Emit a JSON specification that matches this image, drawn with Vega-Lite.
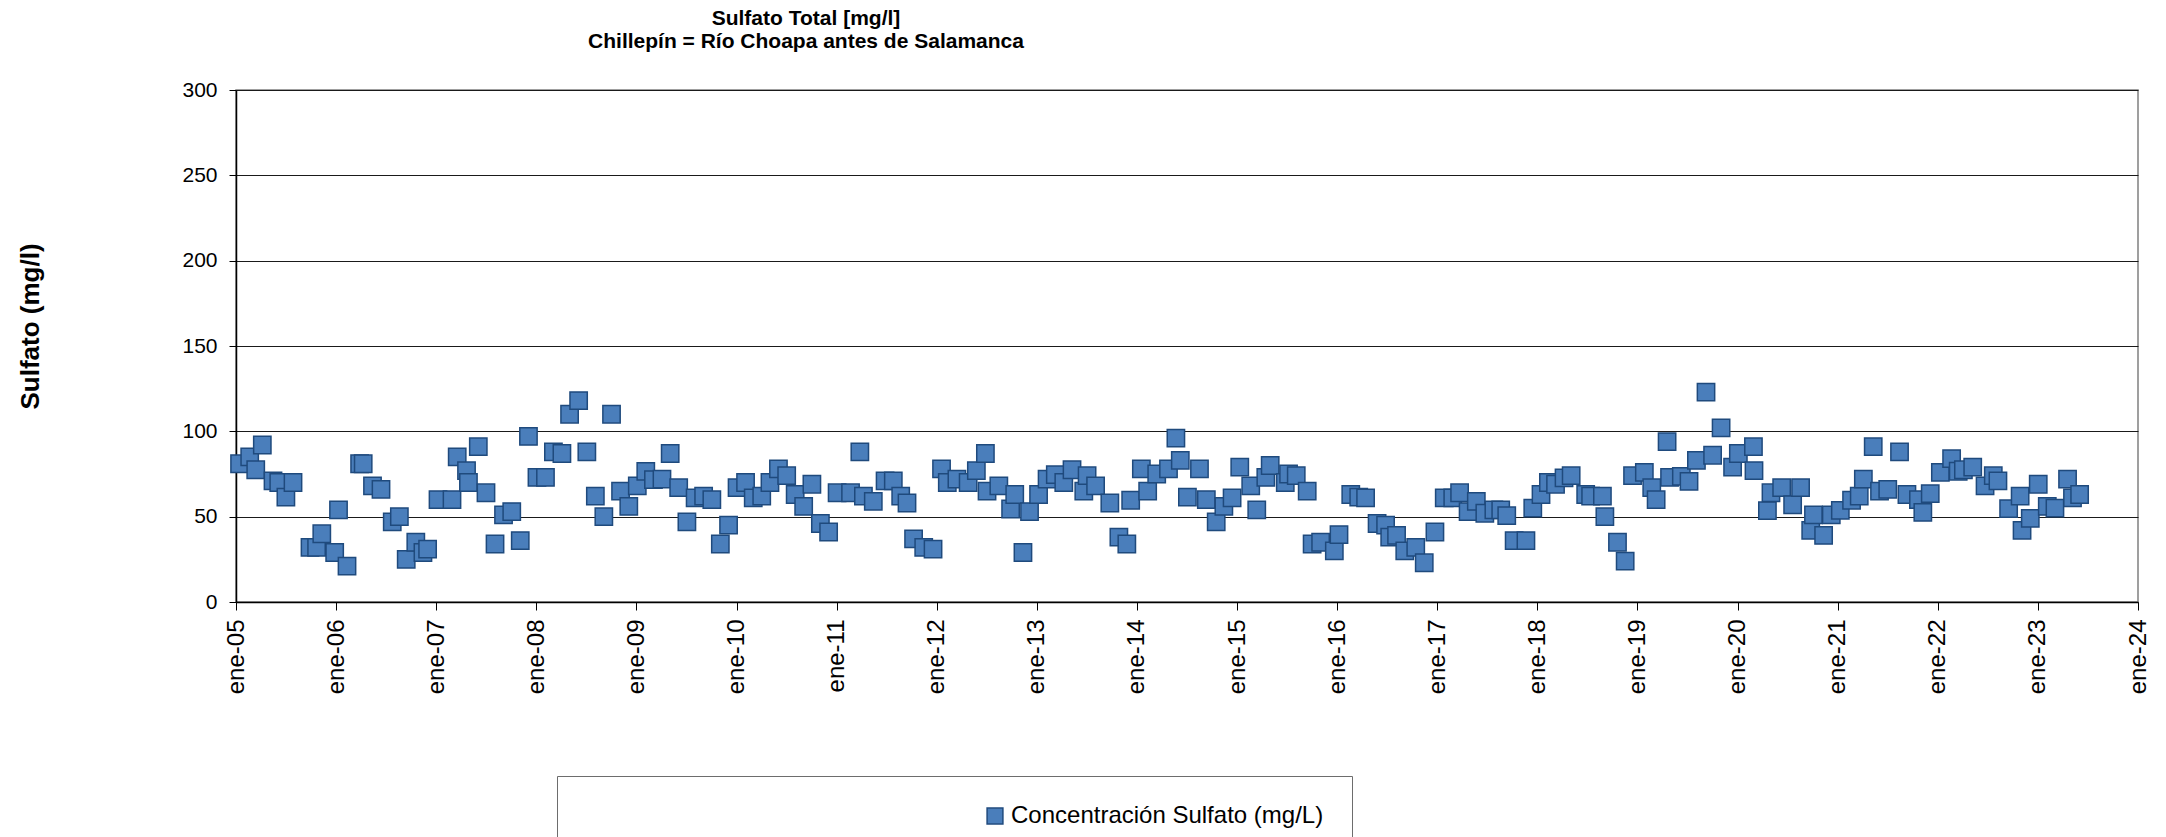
{
  "$schema": "https://vega.github.io/schema/vega-lite/v6.json",
  "autosize": {"type": "none"},
  "width": 1902,
  "height": 512,
  "padding": {"left": 236, "top": 90, "right": 28, "bottom": 235},
  "background": "white",
  "title": {
    "text": ["Sulfato Total [mg/l]", "Chillepín = Río Choapa antes de Salamanca"],
    "font": "Liberation Sans",
    "fontSize": 21,
    "fontWeight": "bold",
    "color": "#000000",
    "lineHeight": 23,
    "anchor": "middle",
    "frame": "group",
    "dx": -381,
    "offset": 27
  },
  "data": {
    "values": [
      {"d": "2005-01-14", "v": 81}, {"d": "2005-02-20", "v": 85}, {"d": "2005-03-14", "v": 77.5}, {"d": "2005-04-07", "v": 92},
      {"d": "2005-05-16", "v": 71}, {"d": "2005-06-06", "v": 70}, {"d": "2005-07-02", "v": 61.5}, {"d": "2005-07-28", "v": 70},
      {"d": "2005-09-28", "v": 32}, {"d": "2005-10-22", "v": 32}, {"d": "2005-11-10", "v": 40}, {"d": "2005-12-27", "v": 29},
      {"d": "2006-01-10", "v": 54}, {"d": "2006-02-10", "v": 21}, {"d": "2006-03-28", "v": 81}, {"d": "2006-04-10", "v": 81},
      {"d": "2006-05-14", "v": 68}, {"d": "2006-06-14", "v": 66}, {"d": "2006-07-25", "v": 47}, {"d": "2006-08-20", "v": 50},
      {"d": "2006-09-14", "v": 25}, {"d": "2006-10-19", "v": 35}, {"d": "2006-11-14", "v": 29}, {"d": "2006-12-01", "v": 31},
      {"d": "2007-01-08", "v": 60}, {"d": "2007-02-28", "v": 60}, {"d": "2007-03-19", "v": 85}, {"d": "2007-04-22", "v": 77},
      {"d": "2007-04-29", "v": 70}, {"d": "2007-06-04", "v": 91}, {"d": "2007-07-02", "v": 64}, {"d": "2007-08-04", "v": 34},
      {"d": "2007-09-04", "v": 51}, {"d": "2007-10-04", "v": 53}, {"d": "2007-11-04", "v": 36}, {"d": "2007-12-04", "v": 97},
      {"d": "2008-01-04", "v": 73}, {"d": "2008-02-04", "v": 73}, {"d": "2008-03-04", "v": 88}, {"d": "2008-04-04", "v": 87},
      {"d": "2008-05-02", "v": 110}, {"d": "2008-06-04", "v": 118}, {"d": "2008-07-04", "v": 88}, {"d": "2008-08-04", "v": 62},
      {"d": "2008-09-04", "v": 50}, {"d": "2008-10-02", "v": 110}, {"d": "2008-11-04", "v": 65}, {"d": "2008-12-04", "v": 56},
      {"d": "2009-01-04", "v": 68}, {"d": "2009-02-04", "v": 76.5}, {"d": "2009-03-04", "v": 71.7}, {"d": "2009-04-04", "v": 72},
      {"d": "2009-05-04", "v": 87}, {"d": "2009-06-04", "v": 67}, {"d": "2009-07-04", "v": 47}, {"d": "2009-08-03", "v": 61},
      {"d": "2009-09-03", "v": 62}, {"d": "2009-10-03", "v": 60}, {"d": "2009-11-03", "v": 34}, {"d": "2009-12-03", "v": 45},
      {"d": "2010-01-03", "v": 67}, {"d": "2010-02-03", "v": 70}, {"d": "2010-03-03", "v": 61}, {"d": "2010-04-03", "v": 62},
      {"d": "2010-05-03", "v": 70}, {"d": "2010-06-03", "v": 78}, {"d": "2010-07-03", "v": 74}, {"d": "2010-08-03", "v": 63},
      {"d": "2010-09-03", "v": 56}, {"d": "2010-10-03", "v": 69}, {"d": "2010-11-03", "v": 46}, {"d": "2010-12-03", "v": 41},
      {"d": "2011-01-03", "v": 64}, {"d": "2011-02-21", "v": 64}, {"d": "2011-03-27", "v": 88}, {"d": "2011-04-09", "v": 62},
      {"d": "2011-05-15", "v": 59}, {"d": "2011-06-27", "v": 71}, {"d": "2011-07-27", "v": 71}, {"d": "2011-08-23", "v": 62},
      {"d": "2011-09-15", "v": 58}, {"d": "2011-10-09", "v": 37}, {"d": "2011-11-15", "v": 32}, {"d": "2011-12-19", "v": 31},
      {"d": "2012-01-19", "v": 78}, {"d": "2012-02-09", "v": 70}, {"d": "2012-03-15", "v": 72}, {"d": "2012-04-25", "v": 70},
      {"d": "2012-05-25", "v": 77}, {"d": "2012-06-27", "v": 87}, {"d": "2012-07-03", "v": 65}, {"d": "2012-08-15", "v": 68},
      {"d": "2012-09-27", "v": 54.5}, {"d": "2012-10-12", "v": 63}, {"d": "2012-11-11", "v": 29}, {"d": "2012-12-05", "v": 53},
      {"d": "2013-01-07", "v": 63}, {"d": "2013-02-07", "v": 72}, {"d": "2013-03-09", "v": 74.6}, {"d": "2013-04-09", "v": 70},
      {"d": "2013-05-09", "v": 77.5}, {"d": "2013-06-21", "v": 65}, {"d": "2013-07-03", "v": 74}, {"d": "2013-08-03", "v": 68},
      {"d": "2013-09-24", "v": 58}, {"d": "2013-10-27", "v": 38}, {"d": "2013-11-25", "v": 34}, {"d": "2013-12-09", "v": 59.6},
      {"d": "2014-01-17", "v": 78}, {"d": "2014-02-09", "v": 65}, {"d": "2014-03-14", "v": 75}, {"d": "2014-04-26", "v": 78},
      {"d": "2014-05-23", "v": 96}, {"d": "2014-06-08", "v": 83}, {"d": "2014-07-04", "v": 61.5}, {"d": "2014-08-17", "v": 78},
      {"d": "2014-09-11", "v": 60}, {"d": "2014-10-17", "v": 47}, {"d": "2014-11-14", "v": 56}, {"d": "2014-12-14", "v": 61},
      {"d": "2015-01-11", "v": 79}, {"d": "2015-02-20", "v": 68}, {"d": "2015-03-14", "v": 54}, {"d": "2015-04-16", "v": 73},
      {"d": "2015-05-02", "v": 80}, {"d": "2015-06-26", "v": 70}, {"d": "2015-07-08", "v": 75}, {"d": "2015-08-05", "v": 74},
      {"d": "2015-09-14", "v": 65}, {"d": "2015-10-02", "v": 34}, {"d": "2015-11-02", "v": 35}, {"d": "2015-12-22", "v": 30},
      {"d": "2016-01-08", "v": 39.5}, {"d": "2016-02-20", "v": 63}, {"d": "2016-03-20", "v": 61.5}, {"d": "2016-04-14", "v": 61},
      {"d": "2016-05-26", "v": 46}, {"d": "2016-06-26", "v": 45}, {"d": "2016-07-11", "v": 38}, {"d": "2016-08-05", "v": 39},
      {"d": "2016-09-04", "v": 30}, {"d": "2016-10-14", "v": 32}, {"d": "2016-11-14", "v": 23}, {"d": "2016-12-23", "v": 41},
      {"d": "2017-01-26", "v": 61}, {"d": "2017-02-26", "v": 61}, {"d": "2017-03-23", "v": 64}, {"d": "2017-04-23", "v": 53},
      {"d": "2017-05-23", "v": 59}, {"d": "2017-06-23", "v": 52}, {"d": "2017-07-26", "v": 54}, {"d": "2017-08-20", "v": 54},
      {"d": "2017-09-11", "v": 50.6}, {"d": "2017-10-08", "v": 36}, {"d": "2017-11-20", "v": 36}, {"d": "2017-12-15", "v": 55},
      {"d": "2018-01-14", "v": 63}, {"d": "2018-02-10", "v": 70}, {"d": "2018-03-08", "v": 69}, {"d": "2018-04-08", "v": 72.7},
      {"d": "2018-05-04", "v": 74}, {"d": "2018-06-26", "v": 63}, {"d": "2018-07-14", "v": 62}, {"d": "2018-08-26", "v": 62},
      {"d": "2018-09-04", "v": 50}, {"d": "2018-10-20", "v": 35}, {"d": "2018-11-17", "v": 24}, {"d": "2018-12-14", "v": 74},
      {"d": "2019-01-26", "v": 76}, {"d": "2019-02-22", "v": 67}, {"d": "2019-03-10", "v": 60}, {"d": "2019-04-19", "v": 94},
      {"d": "2019-04-28", "v": 73}, {"d": "2019-06-10", "v": 73.6}, {"d": "2019-07-08", "v": 70.7}, {"d": "2019-08-04", "v": 83},
      {"d": "2019-09-08", "v": 123}, {"d": "2019-10-02", "v": 86}, {"d": "2019-11-02", "v": 102}, {"d": "2019-12-14", "v": 79},
      {"d": "2020-01-04", "v": 87}, {"d": "2020-02-28", "v": 91}, {"d": "2020-03-01", "v": 77}, {"d": "2020-04-19", "v": 53.5},
      {"d": "2020-05-02", "v": 64}, {"d": "2020-06-10", "v": 67}, {"d": "2020-07-20", "v": 57}, {"d": "2020-08-18", "v": 67},
      {"d": "2020-09-24", "v": 42}, {"d": "2020-10-04", "v": 51}, {"d": "2020-11-10", "v": 39}, {"d": "2020-12-08", "v": 51},
      {"d": "2021-01-10", "v": 53.7}, {"d": "2021-02-20", "v": 59.6}, {"d": "2021-03-20", "v": 62}, {"d": "2021-04-04", "v": 72},
      {"d": "2021-05-10", "v": 91}, {"d": "2021-06-02", "v": 65}, {"d": "2021-07-02", "v": 66}, {"d": "2021-08-14", "v": 88},
      {"d": "2021-09-10", "v": 63}, {"d": "2021-10-22", "v": 60}, {"d": "2021-11-07", "v": 52.5}, {"d": "2021-12-04", "v": 63.5},
      {"d": "2022-01-10", "v": 76}, {"d": "2022-02-20", "v": 84}, {"d": "2022-03-16", "v": 76.6}, {"d": "2022-04-04", "v": 77.5},
      {"d": "2022-05-08", "v": 79}, {"d": "2022-06-22", "v": 68}, {"d": "2022-07-22", "v": 74}, {"d": "2022-08-08", "v": 71},
      {"d": "2022-09-16", "v": 54.7}, {"d": "2022-10-28", "v": 62}, {"d": "2022-11-04", "v": 42}, {"d": "2022-12-04", "v": 49},
      {"d": "2023-01-02", "v": 69}, {"d": "2023-02-04", "v": 56}, {"d": "2023-03-04", "v": 55}, {"d": "2023-04-19", "v": 72},
      {"d": "2023-05-07", "v": 61}, {"d": "2023-06-02", "v": 63}
    ]
  },
  "mark": {"type": "square", "filled": true, "size": 300, "stroke": "#1f4a7d", "strokeWidth": 1.5, "opacity": 1},
  "encoding": {
    "x": {
      "field": "d",
      "type": "temporal",
      "scale": {"type": "utc", "domain": ["2005-01-01", "2024-01-01"], "nice": false},
      "axis": {
        "title": null,
        "grid": false,
        "tickCount": {"interval": "year", "step": 1},
        "labelExpr": "'ene-' + utcFormat(datum.value, '%y')",
        "labelAngle": 270,
        "labelAlign": "right",
        "labelBaseline": "middle",
        "labelFontSize": 24,
        "labelFont": "Liberation Sans",
        "labelColor": "#000000",
        "labelPadding": 9,
        "labelOverlap": false,
        "labelFlush": false,
        "tickSize": 8,
        "tickColor": "#000000",
        "domainColor": "#000000",
        "domainWidth": 1.5
      }
    },
    "y": {
      "field": "v",
      "type": "quantitative",
      "scale": {"domain": [0, 300], "nice": false, "zero": true},
      "axis": {
        "title": "Sulfato (mg/l)",
        "titleFont": "Liberation Sans",
        "titleFontSize": 26,
        "titleFontWeight": "bold",
        "titleColor": "#000000",
        "titleAngle": -90,
        "titleX": -206,
        "titleY": 236,
        "titleAlign": "center",
        "titleBaseline": "middle",
        "values": [0, 50, 100, 150, 200, 250, 300],
        "labelFontSize": 21,
        "labelFont": "Liberation Sans",
        "labelColor": "#000000",
        "labelPadding": 12,
        "tickSize": 7,
        "tickColor": "#000000",
        "domainColor": "#000000",
        "domainWidth": 1.5,
        "grid": true,
        "gridColor": "#1a1a1a",
        "gridWidth": 1
      }
    },
    "color": {
      "datum": "Concentración Sulfato (mg/L)",
      "type": "nominal",
      "scale": {"range": ["#4a7ebb"]},
      "legend": {
        "title": null,
        "orient": "none",
        "legendX": 321,
        "legendY": 686,
        "padding": 28,
        "symbolOffset": 398,
        "symbolType": "square",
        "symbolSize": 250,
        "symbolStrokeColor": "#1f4a7d",
        "symbolStrokeWidth": 1.5,
        "labelFontSize": 24,
        "labelFont": "Liberation Sans",
        "labelColor": "#000000",
        "labelOffset": 4,
        "labelLimit": 1000,
        "strokeColor": "#6d6d6d",
        "fillColor": "#ffffff"
      }
    }
  },
  "config": {
    "view": {"stroke": "#808080", "strokeWidth": 1.5}
  }
}
